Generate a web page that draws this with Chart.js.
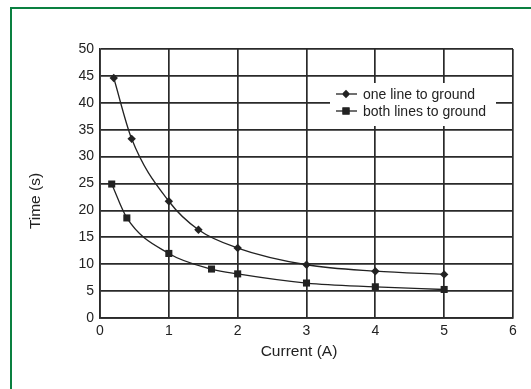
<!DOCTYPE html>
<html>
<head>
<meta charset="utf-8">
<script src="https://cdn.jsdelivr.net/npm/chart.js@4"></script>
<style>
  html, body { margin: 0; padding: 0; background: #fff; overflow: hidden; }
  #frame {
    position: absolute; left: 10px; top: 7px; width: 540px; height: 400px;
    border: 2px solid #0a8040; box-sizing: border-box;
  }
  #wrap { position: absolute; left: 0; top: 0; width: 531px; height: 389px; }
</style>
</head>
<body>
<div id="frame"></div>
<div id="wrap"><canvas id="chart"></canvas></div>
<script>
// values
const oneLineCurrent = [0.2, 0.46, 1.0, 1.43, 2.0, 3.0, 4.0, 5.0];
const oneLineTime    = [44.6, 33.3, 21.7, 16.4, 13.0, 9.9, 8.7, 8.1];
const bothLinesCurrent = [0.17, 0.39, 1.0, 1.62, 2.0, 3.0, 4.0, 5.0];
const bothLinesTime    = [24.9, 18.6, 12.0, 9.1, 8.2, 6.5, 5.8, 5.3];
const seriesLabels = ['one line to ground', 'both lines to ground'];
const xTicks = [0, 1, 2, 3, 4, 5, 6];
const yTicks = [0, 5, 10, 15, 20, 25, 30, 35, 40, 45, 50];
const xTitle = 'Current (A)';
const yTitle = 'Time (s)';

const ink = '#222';
const font = 'Liberation Sans, Arial, Helvetica, sans-serif';

function toPoints(xs, ys) {
    return xs.map((x, i) => ({ x: x, y: ys[i] }));
}

// legend box inside the plot area (top right) + axis titles, placed like the original
const overlay = {
    id: 'overlay',
    afterDatasetsDraw(chart) {
        const ctx = chart.ctx;
        const area = chart.chartArea;
        const bx = area.right - 183, by = area.top + 34, bw = 166, bh = 43;
        ctx.save();
        ctx.fillStyle = '#fff';
        ctx.fillRect(bx, by, bw, bh);
        ctx.font = '14px ' + font;
        ctx.textBaseline = 'middle';
        chart.data.datasets.forEach((ds, i) => {
            const y = by + 11 + i * 17;
            ctx.strokeStyle = ink;
            ctx.lineWidth = 1.3;
            ctx.beginPath();
            ctx.moveTo(bx + 6, y);
            ctx.lineTo(bx + 27, y);
            ctx.stroke();
            Chart.helpers.drawPoint(ctx, {
                pointStyle: ds.pointStyle, radius: ds.pointRadius, borderWidth: 0
            }, bx + 16, y);
            ctx.fillStyle = ink;
            ctx.fill();
            ctx.fillText(ds.label, bx + 33, y + 1);
        });

        // axis titles
        ctx.fillStyle = ink;
        ctx.font = '15.5px ' + font;
        ctx.textAlign = 'center';
        ctx.textBaseline = 'middle';
        ctx.fillText(xTitle, area.left + 199, area.bottom + 34);
        ctx.translate(area.left - 64, area.top + 152);
        ctx.rotate(-Math.PI / 2);
        ctx.fillText(yTitle, 0, 0);
        ctx.restore();
    }
};

const ctx = document.getElementById('chart').getContext('2d');
new Chart(ctx, {
    type: 'scatter',
    data: {
        datasets: [{
            label: seriesLabels[0],
            data: toPoints(oneLineCurrent, oneLineTime),
            showLine: true,
            borderColor: ink,
            borderWidth: 1.3,
            backgroundColor: ink,
            pointStyle: 'rectRot',
            pointRadius: 4.2,
            pointBorderWidth: 0,
            cubicInterpolationMode: 'monotone'
        }, {
            label: seriesLabels[1],
            data: toPoints(bothLinesCurrent, bothLinesTime),
            showLine: true,
            borderColor: ink,
            borderWidth: 1.3,
            backgroundColor: ink,
            pointStyle: 'rect',
            pointRadius: 5,
            pointBorderWidth: 0,
            cubicInterpolationMode: 'monotone'
        }]
    },
    options: {
        responsive: true,
        maintainAspectRatio: false,
        animation: false,
        layout: { padding: { left: 24, top: 49, right: 18, bottom: 25 } },
        plugins: { legend: { display: false }, tooltip: { enabled: false } },
        scales: {
            x: {
                type: 'linear', min: 0, max: 6,
                afterBuildTicks: s => { s.ticks = xTicks.map(v => ({ value: v })); },
                afterFit: s => { s.height = 46; },
                grid: { color: '#2a2a2a', lineWidth: 1.7, drawTicks: false },
                border: { color: '#2a2a2a', width: 1.7 },
                ticks: { color: ink, padding: 5, font: { family: font, size: 14 } },
                title: { display: false }
            },
            y: {
                type: 'linear', min: 0, max: 50,
                afterBuildTicks: s => { s.ticks = yTicks.map(v => ({ value: v })); },
                afterFit: s => { s.width = 76; },
                grid: { color: '#2a2a2a', lineWidth: 1.7, drawTicks: false },
                border: { color: '#2a2a2a', width: 1.7 },
                ticks: { color: ink, padding: 6, font: { family: font, size: 14 } },
                title: { display: false }
            }
        }
    },
    plugins: [overlay]
});
</script>
</body>
</html>
